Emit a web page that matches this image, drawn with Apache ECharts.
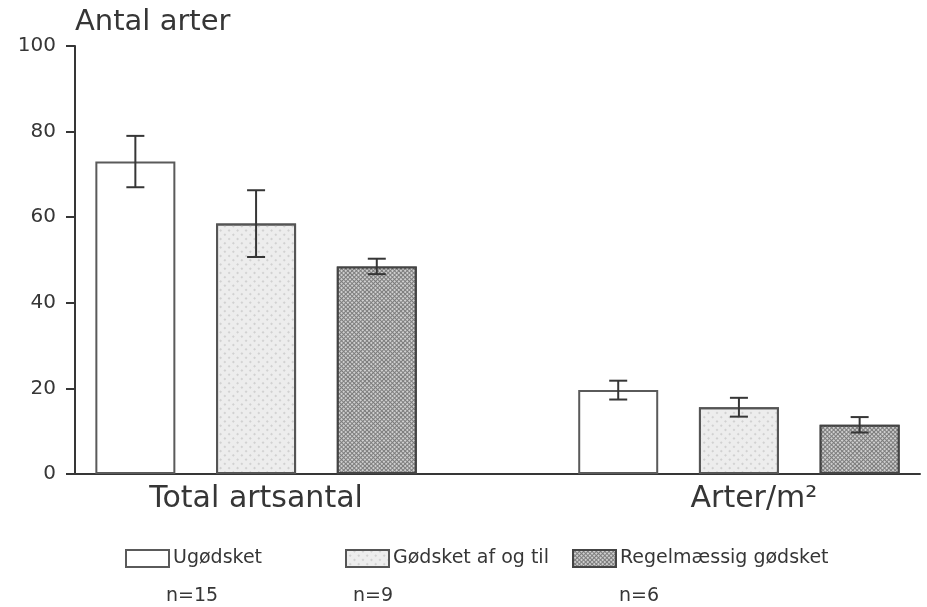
<!DOCTYPE html>
<html>
<head>
<meta charset="utf-8">
<title>Antal arter</title>
<script src="https://cdn.jsdelivr.net/npm/echarts@6/dist/echarts.min.js"></script>
<style>
  html, body { margin: 0; padding: 0; background: #fff; }
  #chart { width: 927px; height: 607px; }
</style>
</head>
<body>
<div id="chart"></div>
<script>
// Species counts per fertilisation regime
const groups = ['Total artsantal', 'Arter/m²'];
const seriesNames = ['Ugødsket', 'Gødsket af og til', 'Regelmæssig gødsket'];
const sampleSizes = ['n=15', 'n=9', 'n=6'];

const meanUgodsket = [73, 19.6];
const errUgodsket = [6, 2.2];
const meanAfOgTil = [58.5, 15.6];
const errAfOgTil = [7.8, 2.2];
const meanRegelmaessig = [48.5, 11.5];
const errRegelmaessig = [1.8, 1.8];

const yTicks = [0, 20, 40, 60, 80, 100];

const means = [meanUgodsket, meanAfOgTil, meanRegelmaessig];
const errs = [errUgodsket, errAfOgTil, errRegelmaessig];

// One slot per bar, with an empty slot between the two groups
const slotsPerGroup = seriesNames.length + 1;
const slotCount = groups.length * slotsPerGroup - 1;
const slots = [];
for (let i = 0; i < slotCount; i++) slots.push('s' + i);
const slotOf = (g, s) => g * slotsPerGroup + s;
const groupLabelSlot = {};
groups.forEach((name, g) => { groupLabelSlot[slotOf(g, Math.floor(seriesNames.length / 2))] = g; });

const ink = '#363636';
const fonts = '"DejaVu Sans", "Liberation Sans", sans-serif';

const itemStyles = [
  { color: '#ffffff', borderColor: '#5a5a5a', borderWidth: 2 },
  {
    color: '#ededed', borderColor: '#555', borderWidth: 2,
    decal: { symbol: 'circle', symbolSize: 1, color: '#c8c8c8',
             dashArrayX: [1.5, 3.5], dashArrayY: [1.5, 3.5], rotation: Math.PI / 4 }
  },
  {
    color: '#7c7c7c', borderColor: '#444', borderWidth: 2,
    decal: { symbol: 'rect', symbolSize: 1, color: '#cfcfcf',
             dashArrayX: [2, 1], dashArrayY: [2, 1], rotation: Math.PI / 4 }
  }
];

const barSeries = seriesNames.map((name, s) => {
  const data = slots.map(() => '-');
  groups.forEach((_, g) => { data[slotOf(g, s)] = means[s][g]; });
  return {
    name: name,
    type: 'bar',
    data: data,
    barWidth: 80,
    barGap: '-100%',
    itemStyle: itemStyles[s],
    emphasis: { disabled: true },
    z: 2
  };
});

const errorData = [];
seriesNames.forEach((_, s) => {
  groups.forEach((_, g) => {
    errorData.push([slotOf(g, s), means[s][g] - errs[s][g], means[s][g] + errs[s][g]]);
  });
});

const errorSeries = {
  type: 'custom',
  data: errorData,
  z: 5,
  silent: true,
  encode: { x: 0, y: [1, 2] },
  renderItem: function (params, api) {
    const lo = api.coord([api.value(0), api.value(1)]);
    const hi = api.coord([api.value(0), api.value(2)]);
    const half = 9;
    const style = { stroke: ink, lineWidth: 2, fill: null };
    return {
      type: 'group',
      children: [
        { type: 'line', shape: { x1: hi[0], y1: hi[1], x2: lo[0], y2: lo[1] }, style: style },
        { type: 'line', shape: { x1: hi[0] - half, y1: hi[1], x2: hi[0] + half, y2: hi[1] }, style: style },
        { type: 'line', shape: { x1: lo[0] - half, y1: lo[1], x2: lo[0] + half, y2: lo[1] }, style: style }
      ]
    };
  }
};

const legendLefts = [125, 345, 572];
const legends = seriesNames.map((name, s) => ({
  left: legendLefts[s],
  top: 549,
  padding: 0,
  data: [{ name: name, icon: 'rect' }],
  itemWidth: 43,
  itemHeight: 17,
  itemGap: 0,
  selectedMode: false,
  textStyle: { fontFamily: fonts, fontSize: 19, color: ink, padding: [0, 0, 0, -1] }
}));

const nLefts = [166, 353, 619];
const nTexts = sampleSizes.map((t, s) => ({
  type: 'text',
  left: nLefts[s],
  top: 587,
  style: { text: t, fontFamily: fonts, fontSize: 19, fill: ink }
}));

const chart = echarts.init(document.getElementById('chart'), null, { renderer: 'canvas' });
chart.setOption({
  animation: false,
  backgroundColor: '#ffffff',
  grid: { left: 75, right: 7, top: 46, bottom: 133, containLabel: false },
  xAxis: {
    type: 'category',
    data: slots,
    axisLine: { lineStyle: { color: ink, width: 2 } },
    axisTick: { show: false },
    axisLabel: {
      interval: 0,
      margin: 10,
      fontFamily: fonts,
      fontSize: 30,
      color: ink,
      formatter: function (value, idx) {
        const g = groupLabelSlot[idx];
        if (g === undefined) return '';
        return g === groups.length - 1 ? '{shift|' + groups[g] + '}' : groups[g];
      },
      rich: { shift: { fontFamily: fonts, fontSize: 30, color: ink, padding: [0, 0, 0, 30] } }
    }
  },
  yAxis: {
    type: 'value',
    min: yTicks[0],
    max: yTicks[yTicks.length - 1],
    interval: yTicks[1] - yTicks[0],
    name: 'Antal arter',
    nameLocation: 'end',
    nameGap: 9,
    nameTextStyle: { fontFamily: fonts, fontSize: 29, color: ink, align: 'left', padding: [0, 0, 0, 0] },
    axisLine: { show: true, lineStyle: { color: ink, width: 2 } },
    axisTick: { show: true, inside: false, length: 9, lineStyle: { color: ink, width: 2 } },
    axisLabel: { margin: 19, fontFamily: fonts, fontSize: 20, color: ink },
    splitLine: { show: false }
  },
  legend: legends,
  graphic: nTexts,
  series: barSeries.concat([errorSeries])
});
</script>
</body>
</html>
